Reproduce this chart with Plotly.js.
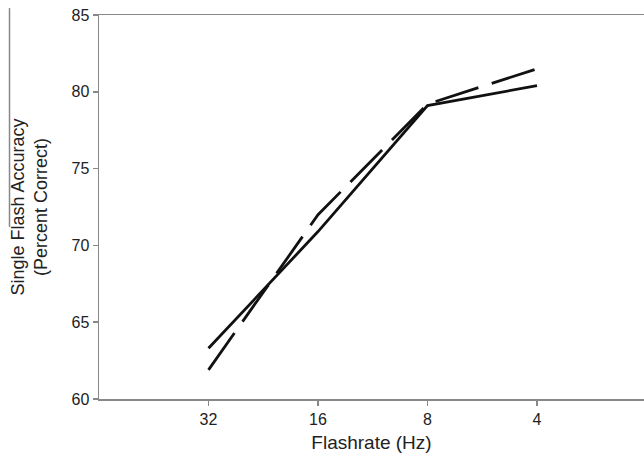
<!DOCTYPE html>
<html>
<head>
<meta charset="utf-8">
<script src="https://cdn.plot.ly/plotly-3.0.1.min.js"></script>
<style>html,body{margin:0;padding:0;background:#fff;}#chart{width:644px;height:458px;}</style>
</head>
<body>
<div id="chart"></div>
<script>
var flashrates = ['32', '16', '8', '4'];
var solidAccuracy = [63.3, 70.9, 79.1, 80.4];
var dashedAccuracy = [61.9, 72.0, 79.2, 81.5];
var yTicks = [60, 65, 70, 75, 80, 85];

var traces = [
  {x: flashrates, y: solidAccuracy, type: 'scatter', mode: 'lines',
   line: {color: '#111', width: 2.8}, showlegend: false, hoverinfo: 'skip'},
  {x: flashrates, y: dashedAccuracy, type: 'scatter', mode: 'lines',
   line: {color: '#111', width: 2.8, dash: '45px,14px'}, showlegend: false, hoverinfo: 'skip'}
];

var axisFont = {family: 'Liberation Sans, Arial, sans-serif', size: 16, color: '#222'};
var layout = {
  width: 644, height: 458,
  margin: {l: 99, r: 0, t: 15, b: 59},
  paper_bgcolor: '#fff', plot_bgcolor: '#fff',
  xaxis: {
    type: 'category', categoryorder: 'array', categoryarray: flashrates,
    range: [-1, 3.977],
    showgrid: false, zeroline: false,
    showline: true, linecolor: '#888', linewidth: 1.5, mirror: true,
    ticks: 'outside', ticklen: 5, tickwidth: 1.5, tickcolor: '#888',
    tickfont: axisFont,
    title: {text: 'Flashrate (Hz)', font: {family: 'Liberation Sans, Arial, sans-serif', size: 19, color: '#222'}, standoff: 9}
  },
  yaxis: {
    range: [60, 85], tickvals: yTicks, ticktext: yTicks.map(String),
    showgrid: false, zeroline: false,
    showline: true, linecolor: '#888', linewidth: 1.5,
    ticks: 'outside', ticklen: 5, tickwidth: 1.5, tickcolor: '#888',
    tickfont: axisFont,
    title: {text: 'Single Flash Accuracy<br>(Percent Correct)', font: {family: 'Liberation Sans, Arial, sans-serif', size: 18, color: '#222'}, standoff: 19}
  },
  shapes: [
    {type: 'line', xref: 'paper', yref: 'paper', x0: -0.1642, x1: -0.1642, y0: 1.018, y1: 0.448,
     line: {color: '#888', width: 1.5}}
  ]
};

Plotly.newPlot('chart', traces, layout, {staticPlot: true, displayModeBar: false});
</script>
</body>
</html>
